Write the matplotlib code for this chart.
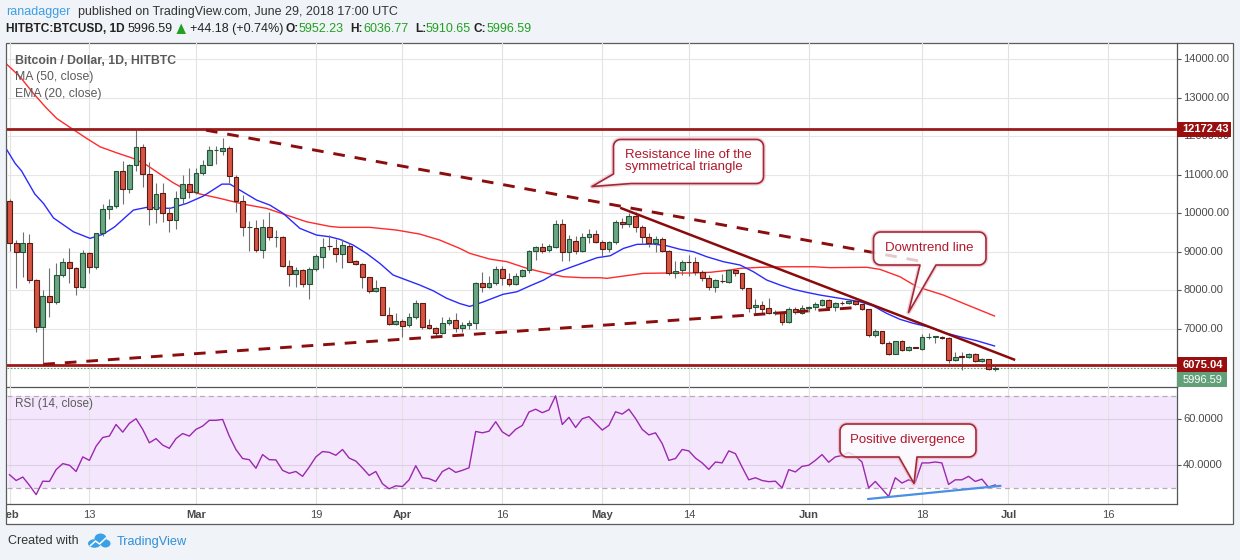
import matplotlib
matplotlib.use('Agg')
import matplotlib.pyplot as plt
import numpy as np
import pandas as pd
from matplotlib.patches import Rectangle, Polygon, Ellipse
from matplotlib.transforms import blended_transform_factory, Bbox

plt.rcParams['font.family'] = ['Liberation Sans', 'DejaVu Sans']

# ---------------- data ----------------
start = pd.Timestamp('2018-02-01')
dates = pd.date_range('2018-02-01', '2018-06-29', freq='D')

opens = [10324, 9220, 8987, 9228, 8270, 7060, 7850, 7690, 8390, 8730,
         8570, 8100, 8960, 8610, 9480, 10100, 10200, 11100, 10620, 11260,
         11730, 11010, 10100, 10515, 10000, 9815, 10385, 10750, 10560, 11050,
         11250, 11640, 11620, 11700, 10945, 10324, 9635, 9610, 9047, 9650,
         9375, 9375, 8630, 8420, 8530, 8160, 8550, 8873, 9160, 9106,
         8935, 9150, 8770, 8676, 8339, 7984, 8080, 7355, 7122, 7207,
         7096, 7303, 7666, 7104, 7018, 6889, 7148, 7233, 7034, 7104,
         7148, 8180, 8095, 8180, 8554, 8296, 8160, 8383, 8528, 9020,
         9113, 9045, 9130, 9712, 8985, 9287, 9020, 9373, 9450, 9262,
         9065, 9262, 9780, 9710, 9917, 9650, 9392, 9236, 9322, 9028,
         8459, 8528, 8743, 8725, 8485, 8330, 8096, 8250, 8226, 8528,
         8442, 8054, 7560, 7614, 7536, 7424, 7406, 7173, 7510, 7424,
         7536, 7560, 7630, 7751, 7562, 7683, 7674, 7717, 7648, 7510,
         6837, 6940, 6646, 6361, 6689, 6465, 6525, 6490, 6785, 6800,
         6800, 6770, 6197, 6290, 6282, 6352, 6180, 6215, 5952.23]
highs = [10380, 9300, 9520, 9460, 8300, 8010, 8580, 8710, 8830, 9100,
         8600, 9040, 9000, 9500, 10238, 10360, 11100, 11360, 11280, 12155,
         11790, 11335, 10790, 10790, 10150, 10575, 11000, 11180, 11180, 11380,
         11740, 11750, 11960, 11750, 11000, 10470, 9805, 9820, 9840, 10040,
         9565, 9400, 8788, 8598, 8550, 8600, 8950, 9350, 9435, 9324,
         9324, 9236, 8800, 8700, 8350, 8270, 8090, 7562, 7407, 7250,
         7407, 7751, 7680, 7251, 7050, 7319, 7320, 7420, 7180, 7230,
         8210, 8469, 8373, 8640, 8640, 8443, 8443, 8560, 9040, 9140,
         9220, 9200, 9824, 9850, 9435, 9410, 9495, 9580, 9560, 9300,
         9290, 9830, 9867, 10000, 10023, 9700, 9479, 9400, 9392, 9050,
         8770, 8800, 8917, 8873, 8528, 8400, 8300, 8417, 8560, 8560,
         8460, 8070, 7769, 7720, 7795, 7480, 7420, 7560, 7580, 7620,
         7600, 7700, 7780, 7780, 7700, 7720, 7740, 7740, 7660, 7520,
         6992, 6960, 6700, 6700, 6720, 6560, 6540, 6870, 6888, 6820,
         6820, 6780, 6404, 6400, 6380, 6370, 6250, 6230, 6036.77]
lows = [9030, 8060, 8355, 8200, 6930, 6120, 7320, 7650, 8350, 8190,
        7880, 8050, 8443, 8550, 9400, 9842, 10127, 10238, 10531, 11100,
        10686, 9700, 9754, 9780, 9520, 9590, 10240, 10390, 10500, 11000,
        11250, 11290, 11500, 10775, 10040, 9400, 9028, 9000, 8850, 9300,
        9116, 8600, 8114, 8096, 8100, 7770, 8500, 8572, 9047, 8744,
        8572, 8740, 8650, 8054, 7925, 7950, 7350, 7100, 7100, 6800,
        7050, 7250, 7000, 7000, 6800, 6870, 7100, 6914, 6930, 7000,
        7000, 7966, 8050, 8150, 8140, 8120, 8140, 8350, 8443, 8788,
        8980, 9000, 9100, 8760, 8760, 8950, 9000, 9220, 9220, 8900,
        9000, 9200, 9608, 9650, 9520, 9220, 9116, 9002, 9000, 8400,
        8313, 8400, 8380, 8400, 8250, 8000, 7966, 8200, 8200, 8380,
        8000, 7450, 7406, 7410, 7380, 7370, 7100, 7150, 7380, 7400,
        7450, 7500, 7600, 7520, 7475, 7620, 7640, 7620, 7480, 6800,
        6785, 6600, 6320, 6340, 6440, 6440, 6500, 6460, 6733, 6630,
        6740, 6120, 6163, 5938, 6250, 6150, 6150, 5940, 5910.65]
closes = [9228, 8987, 9220, 8270, 7060, 7855, 7690, 8390, 8730, 8570,
          8080, 8960, 8610, 9480, 10100, 10200, 11085, 10620, 11260, 11730,
          11030, 10100, 10490, 10000, 9815, 10385, 10750, 10560, 11050, 11250,
          11640, 11650, 11700, 10960, 10324, 9635, 9640, 9047, 9650, 9375,
          9380, 8630, 8420, 8530, 8160, 8550, 8890, 9132, 9140, 8935,
          9176, 8744, 8676, 8339, 7984, 8070, 7363, 7130, 7207, 7085,
          7303, 7666, 7060, 7018, 6889, 7148, 7233, 7034, 7104, 7163,
          8180, 8095, 8180, 8554, 8313, 8160, 8383, 8528, 9020, 9113,
          9028, 9148, 9712, 8985, 9330, 9020, 9373, 9450, 9260, 9065,
          9262, 9780, 9710, 9917, 9650, 9392, 9236, 9322, 9028, 8459,
          8502, 8743, 8725, 8485, 8330, 8096, 8270, 8243, 8528, 8442,
          8054, 7535, 7622, 7528, 7406, 7430, 7173, 7510, 7432, 7536,
          7560, 7648, 7751, 7562, 7683, 7674, 7717, 7648, 7510, 6837,
          6940, 6646, 6361, 6689, 6465, 6525, 6515, 6785, 6800, 6810,
          6770, 6197, 6282, 6280, 6352, 6180, 6215, 5972, 5996.59]

rsi = [35.8, 33.3, 34.8, 31.2, 27.2, 33.0, 32.9, 38.0, 40.6, 39.9,
       37.2, 43.5, 42.0, 48.1, 51.9, 52.5, 57.5, 54.2, 58.0, 60.0,
       55.4, 49.6, 51.4, 48.6, 47.2, 51.4, 53.6, 52.5, 55.4, 56.8,
       59.3, 59.3, 59.7, 52.5, 46.7, 42.8, 42.3, 38.6, 44.5, 42.3,
       42.2, 37.7, 36.4, 37.2, 35.1, 39.1, 43.5, 45.8, 45.5, 44.2,
       46.7, 43.0, 41.7, 38.7, 35.5, 37.2, 31.9, 29.7, 31.0, 30.7,
       33.6, 39.7, 34.5, 34.1, 32.9, 37.2, 38.7, 36.8, 37.7, 38.8,
       54.5, 53.9, 54.6, 58.7, 54.3, 52.5, 55.4, 57.1, 62.9, 64.1,
       62.6, 63.8, 69.9, 57.5, 60.6, 56.2, 60.0, 60.9, 58.0, 55.1,
       57.1, 63.0, 62.0, 64.1, 60.1, 55.4, 53.0, 53.9, 49.3, 42.0,
       42.8, 46.7, 46.1, 43.0, 40.9, 38.1, 41.3, 40.9, 46.1, 44.9,
       39.1, 33.6, 34.5, 33.3, 32.8, 33.0, 30.1, 38.0, 37.0, 39.4,
       39.9, 42.0, 44.5, 41.2, 43.5, 44.1, 45.4, 43.9, 41.3, 30.1,
       32.9, 29.7, 26.4, 34.5, 32.2, 33.6, 32.6, 40.9, 40.9, 41.3,
       40.9, 31.6, 33.6, 33.6, 35.1, 32.9, 33.9, 30.4, 31.4]

# moving averages: (day offset from Feb 1, value)
ma50_day = [-0.45, 1.6, 3.6, 5.6, 7.1, 9.1, 11.6, 13.6, 16.1, 18.6, 20.6, 22.6,
            24.6, 26.6, 28.6, 31.6, 35.1, 38.6, 41.6, 44.6, 48.1, 49.6, 54.1,
            58.1, 61.6, 64.6, 67.6, 69.1, 72.1, 74.7, 77.7, 80.7, 83.2, 86.2,
            88.7, 89.7, 92.2, 95.2, 98.7, 102.2, 105.2, 108.2, 109.7, 112.7,
            116.7, 120.7, 123.2, 128.7, 130.7, 133.7, 136.2, 140.2, 143.2, 147.9]
ma50_val = [13870, 13536, 13106, 12718, 12458, 12225, 11940, 11723, 11567, 11422,
            11250, 11016, 10790, 10600, 10500, 10386, 10238, 10127, 9953, 9780,
            9660, 9635, 9635, 9565, 9461, 9306, 9090, 8961, 8813, 8744, 8572,
            8443, 8355, 8329, 8329, 8313, 8373, 8443, 8451, 8451, 8469, 8528,
            8572, 8598, 8614, 8614, 8590, 8600, 8546, 8355, 8100, 7881, 7666, 7337]
ema20_day = [-0.45, 0.85, 1.8, 3.8, 5.1, 6.6, 9.6, 12.1, 14.1, 15.8, 18.6, 20.6,
             24.1, 26.6, 29.1, 31.9, 33.1, 34.6, 37.1, 39.1, 41.1, 43.6, 46.1,
             48.1, 49.6, 51.6, 53.6, 55.6, 57.6, 59.6, 61.6, 63.6, 65.6, 67.6,
             69.1, 71.1, 74.1, 76.2, 78.2, 80.2, 82.2, 85.2, 88.2, 90.2, 92.2,
             94.2, 96.7, 98.7, 100.7, 102.7, 104.7, 107.2, 109.7, 111.7, 113.7,
             115.7, 117.7, 119.7, 121.7, 124.7, 127.7, 129.7, 131.7, 133.7,
             135.7, 138.2, 140.7, 142.7, 145.2, 147.9]
ema20_val = [11660, 11293, 11100, 10500, 10256, 9880, 9520, 9350, 9461, 9650,
             10083, 10153, 10127, 10256, 10446, 10756, 10756, 10600, 10342, 10212,
             9997, 9609, 9435, 9391, 9324, 9176, 8961, 8702, 8399, 8269, 8140,
             7992, 7800, 7660, 7585, 7700, 7899, 7966, 8122, 8269, 8469, 8658,
             8847, 8899, 9090, 9194, 9202, 9158, 9065, 9003, 8873, 8744, 8658,
             8484, 8269, 8140, 8028, 7950, 7880, 7795, 7707, 7596, 7406, 7251,
             7148, 7044, 6889, 6800, 6697, 6560]

level_hi = 12172.43
level_lo = 6075.04
last_close = 5996.59
price_ticks = [7000, 8000, 9000, 10000, 11000, 12000, 13000, 14000]
rsi_ticks = [40, 60]
# trend lines: (day, price)
support_pts = ([5.07, 127.0], [6085, 7554])
resist_pts = ([29.5, 137.9], [12155, 8723])
downtrend_pts = ([91.7, 151.0], [10142, 6197])
diverg_pts = ([128.9, 148.8], [25.3, 31.0])

xlabels = [('2018-02-13', '13', False), ('2018-03-01', 'Mar', True),
           ('2018-03-19', '19', False), ('2018-04-01', 'Apr', True),
           ('2018-04-16', '16', False), ('2018-05-01', 'May', True),
           ('2018-05-14', '14', False), ('2018-06-01', 'Jun', True),
           ('2018-06-18', '18', False), ('2018-07-01', 'Jul', True),
           ('2018-07-16', '16', False)]

# ---------------- layout ----------------
W, H = 1240, 560
def fx(x):
    return x / W
def fy(y):
    return 1 - y / H

fig = plt.figure(figsize=(12.4, 5.6), dpi=100)
fig.patch.set_facecolor('#f0f3f7')

frame = Rectangle((fx(6), fy(523.5)), fx(1233) - fx(6), fy(43) - fy(523.5),
                  transform=fig.transFigure, facecolor='white',
                  edgecolor='#5c5c5c', lw=0.9, zorder=-5)
fig.add_artist(frame)

L, R = 6.5, 1177
PXD, X0 = 6.66, 9.5
xmin, xmax = (L - X0) / PXD, (R - X0) / PXD

axp = fig.add_axes([fx(L), fy(387), fx(R) - fx(L), (387 - 43) / H])
axr = fig.add_axes([fx(L), fy(504), fx(R) - fx(L), (504 - 387) / H])
for ax in (axp, axr):
    ax.set_facecolor('none')
    ax.set_xlim(xmin, xmax)
    for s in ('left', 'top'):
        ax.spines[s].set_visible(False)
    for s in ('right', 'bottom'):
        ax.spines[s].set_color('#555555')
        ax.spines[s].set_linewidth(0.9)
    ax.tick_params(axis='x', bottom=False, labelbottom=False)
    ax.yaxis.tick_right()
    ax.tick_params(axis='y', right=True, left=False, labelright=False,
                   labelleft=False, length=3, width=0.8, color='#555555')

axp.set_ylim(5496, 14415)
axr.set_ylim(23.15, 73.7)
axp.set_yticks(price_ticks)
axr.set_yticks(rsi_ticks)

grid_days = [0] + [(pd.Timestamp(d) - start).days for d, _, _ in xlabels]
for ax in (axp, axr):
    for g in grid_days:
        ax.axvline(g, color='#e2e2e2', lw=0.8, zorder=0.5)
for v in price_ticks:
    axp.axhline(v, color='#e6e6e6', lw=0.8, zorder=0.5)

# candles
days = np.array([(d - start).days for d in dates])
up_face, dn_face = '#6ba583', '#d75442'
up_edge, dn_edge = '#225437', '#5b1a13'
for i, o, h, l, c in zip(days, opens, highs, lows, closes):
    axp.vlines(i, l, h, color='#6f6f72', lw=0.8, zorder=3)
    up = c >= o
    lo = min(o, c)
    hh = max(abs(c - o), 12)
    axp.add_patch(Rectangle((i - 0.36, lo), 0.72, hh,
                            facecolor=up_face if up else dn_face,
                            edgecolor=up_edge if up else dn_edge,
                            lw=0.8, zorder=4))

axp.plot(ma50_day, ma50_val, color='#ff2a2a', lw=1.0, zorder=2.5)
axp.plot(ema20_day, ema20_val, color='#2a2aff', lw=1.0, zorder=2.6)

axp.axhline(level_hi, color='#9c1a1a', lw=2.0, zorder=5)
axp.axhline(level_lo, color='#9c1a1a', lw=2.0, zorder=5)
axp.axhline(last_close, color='#5b9e74', lw=0.8, ls=(0, (1.5, 1.5)), zorder=2)

axp.plot(*support_pts, color='#8b0d0d', lw=2.1, dashes=(4, 3.4), zorder=5)
axp.plot(*resist_pts, color='#8b0d0d', lw=2.1, dashes=(4, 3.4), zorder=5)
axp.plot(*downtrend_pts, color='#8b0a0a', lw=1.8, zorder=5,
         solid_capstyle='butt')

# RSI
axr.axhspan(30, 70, color='#f4e7fd', zorder=0.2, lw=0)
for v in rsi_ticks:
    axr.axhline(v, color='#dccfe6', lw=0.8, zorder=0.6)
for v in (30, 70):
    axr.axhline(v, color='#b4aab8', lw=0.9, dashes=(4, 3), zorder=0.7)
axr.plot(days, rsi, color='#9c27b0', lw=1.0, zorder=3)
axr.plot(*diverg_pts, color='#4a8fe2', lw=1.6, zorder=4, solid_capstyle='round')

# axis labels (right)
tp = blended_transform_factory(fig.transFigure, axp.transData)
for v in price_ticks:
    fig.text(fx(1183), v, f'{v:.2f}', transform=tp, ha='left', va='center',
             fontsize=8, color='#4a4a4a')
tr = blended_transform_factory(fig.transFigure, axr.transData)
for v in rsi_ticks:
    fig.text(fx(1183), v, f'{v:.4f}', transform=tr, ha='left', va='center',
             fontsize=8, color='#4a4a4a')

def ypx(ax, v):
    return H - ax.transData.transform((0, v))[1]

def price_box(yc, x1, text, face, bold):
    fig.add_artist(Rectangle((fx(1177), fy(yc + 7.5)), fx(x1) - fx(1177), 15 / H,
                             transform=fig.transFigure, facecolor=face,
                             edgecolor='none', zorder=8))
    fig.text(fx(1182.5), fy(yc), text, ha='left', va='center', fontsize=8,
             color='white', fontweight='bold' if bold else 'normal', zorder=9)

price_box(ypx(axp, level_hi), 1231, f'{level_hi:.2f}', '#990f0f', True)
yl = ypx(axp, level_lo)
price_box(yl, 1227, f'{level_lo:.2f}', '#990f0f', True)
price_box(yl + 15.2, 1227, f'{last_close:.2f}', '#62a07a', False)

# x labels
tx = blended_transform_factory(axr.transData, fig.transFigure)
for d, lab, bold in xlabels:
    dd = (pd.Timestamp(d) - start).days
    fig.text(dd, fy(515), lab, transform=tx, ha='center', va='center',
             fontsize=8, color='#4a4a4a', fontweight='bold' if bold else 'normal')
tfeb = fig.text(0, fy(515), 'Feb', transform=tx, ha='center', va='center',
                fontsize=8, color='#4a4a4a', fontweight='bold')
tfeb.set_clip_box(Bbox.from_extents(7, 0, W, H))
tfeb.set_clip_on(True)

# panel titles
fig.text(fx(15), fy(60.7), 'Bitcoin / Dollar, 1D, HITBTC', fontsize=8.8,
         fontweight='bold', color='#5a5a5a', va='center', ha='left')
fig.text(fx(15), fy(77.3), 'MA (50, close)', fontsize=8.8, color='#5a5a5a',
         va='center', ha='left')
fig.text(fx(15), fy(93.5), 'EMA (20, close)', fontsize=8.8, color='#5a5a5a',
         va='center', ha='left')
fig.text(fx(15), fy(404), 'RSI (14, close)', fontsize=8.5, color='#5a5a5a',
         va='center', ha='left')

# header
green = '#22a022'
fig.text(fx(6.5), fy(12), 'ranadagger', fontsize=9, color='#3d9ee5', va='center')
fig.text(fx(77.5), fy(12), 'published on TradingView.com, June 29, 2018 17:00 UTC',
         fontsize=9, color='#333333', va='center')
parts = [('HITBTC:BTCUSD, 1D', 6.3, 'bold', '#222222'),
         ('5996.59', 127.7, 'normal', '#222222'),
         ('+44.18 (+0.74%)', 189.7, 'normal', '#222222'),
         ('O:', 285.4, 'bold', '#222222'), ('5952.23', 299.0, 'normal', green),
         ('H:', 350.6, 'bold', '#222222'), ('6036.77', 363.6, 'normal', green),
         ('L:', 415.0, 'bold', '#222222'), ('5910.65', 426.0, 'normal', green),
         ('C:', 474.0, 'bold', '#222222'), ('5996.59', 487.0, 'normal', green)]
for t, x, w, c in parts:
    fig.text(fx(x), fy(29), t, fontsize=8.6 if w == 'bold' else 9,
             fontweight=w, color=c, va='center', ha='left')
fig.add_artist(Polygon([(fx(176.5), fy(34)), (fx(186), fy(34)), (fx(181.2), fy(23.5))],
                       closed=True, transform=fig.transFigure, facecolor=green,
                       edgecolor='none'))

# footer
fig.text(fx(8), fy(541.5), 'Created with', fontsize=9, color='#333333', va='center')
fig.text(fx(117), fy(541.5), 'TradingView', fontsize=9.2, color='#2f8fd9', va='center')
for (cx, cy, ew, eh) in [(94.5, 543.5, 13, 8.5), (100.5, 538.5, 12, 10),
                         (105.5, 543.5, 10, 8)]:
    fig.add_artist(Ellipse((fx(cx), fy(cy)), ew / W, eh / H,
                           transform=fig.transFigure, facecolor='#3ba1e6',
                           edgecolor='none'))
zz = [(90.5, 545.5), (95.5, 541), (99.5, 544), (106, 538)]
fig.add_artist(plt.Line2D([fx(a) for a, b in zz], [fy(b) for a, b in zz],
                          transform=fig.transFigure, color='white', lw=1.1))

# callouts
def arc(cx, cy, r, a0, a1, n=7):
    a = np.radians(np.linspace(a0, a1, n))
    return [(cx + r * np.cos(t), cy + r * np.sin(t)) for t in a]

def callout(x0, y0, x1, y1, r, bottom_pts, skip_bl=False):
    pts = []
    pts += arc(x1 - r, y0 + r, r, -90, 0)
    pts += arc(x1 - r, y1 - r, r, 0, 90)
    pts += bottom_pts
    if not skip_bl:
        pts += arc(x0 + r, y1 - r, r, 90, 180)
    pts += arc(x0 + r, y0 + r, r, 180, 270)
    xy = [(fx(a), fy(b)) for a, b in pts]
    fig.add_artist(Polygon(xy, closed=True, transform=fig.transFigure,
                           facecolor='none', edgecolor='#e6aab3', lw=3.2,
                           alpha=0.55, zorder=10, joinstyle='round'))
    fig.add_artist(Polygon(xy, closed=True, transform=fig.transFigure,
                           facecolor=(1, 1, 1, 0.78), edgecolor='#a3283a',
                           lw=1.2, zorder=11, joinstyle='round'))

tc = '#b0182b'
callout(613.5, 139.5, 763.5, 183.5, 7,
        [(631, 183.5), (592, 186.5), (613.5, 174)], skip_bl=True)
fig.text(fx(625), fy(155), 'Resistance line of the', fontsize=9.5, color=tc,
         va='center', ha='left', zorder=12)
fig.text(fx(625), fy(167.5), 'symmetrical triangle', fontsize=9.5, color=tc,
         va='center', ha='left', zorder=12)

callout(873.5, 232, 986, 265, 7, [(936, 265), (908.5, 312.5), (920, 265)])
fig.text(fx(929.5), fy(248), 'Downtrend line', fontsize=9.5, color=tc,
         va='center', ha='center', zorder=12)

callout(840, 424, 976, 457, 7, [(917, 457), (914, 483.5), (899, 457)])
fig.text(fx(908), fy(440), 'Positive divergence', fontsize=9.5, color=tc,
         va='center', ha='center', zorder=12)

fig.savefig('out.png', dpi=100, facecolor=fig.get_facecolor())
